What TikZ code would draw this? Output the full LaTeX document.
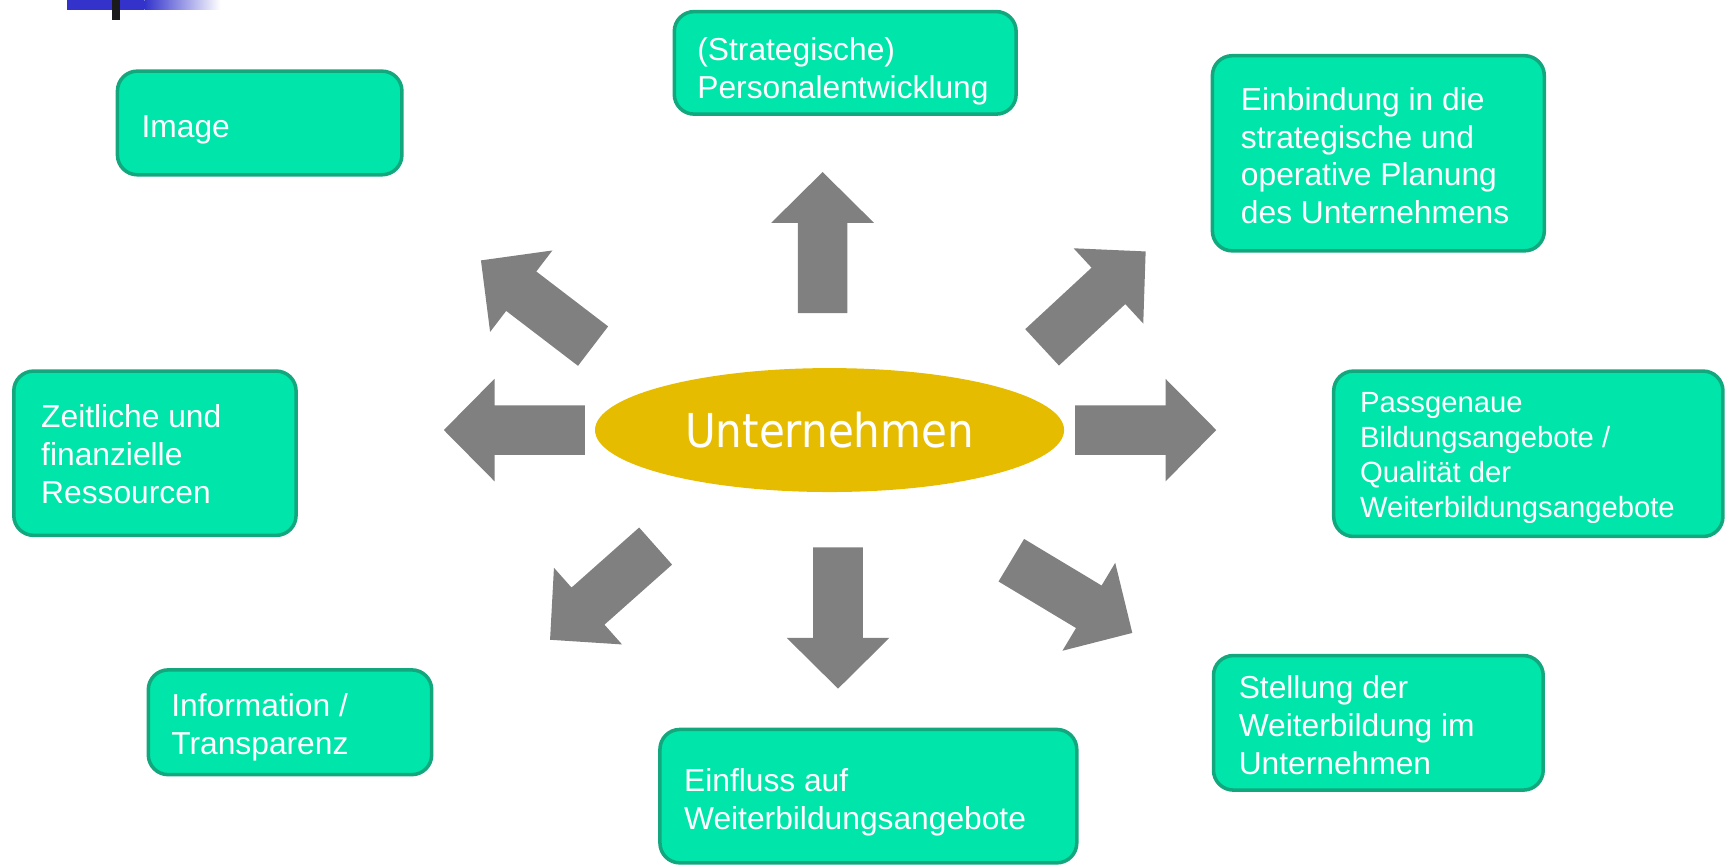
\documentclass[tikz,border=0pt]{standalone}
\usepackage{fontspec}
\setmainfont{Liberation Sans}
\newfontfamily\ufont{DejaVu Sans Condensed}
\usetikzlibrary{shapes.geometric}
\definecolor{mint}{HTML}{00E5AA}
\definecolor{mintline}{HTML}{13A77E}
\definecolor{gold}{HTML}{E6BC00}
\definecolor{agray}{HTML}{808080}
\definecolor{topblue}{HTML}{3333CC}
\definecolor{topbar}{HTML}{1A1A1A}
\begin{document}
\begin{tikzpicture}[x=0.5pt,y=-0.5pt,
  tbox/.style={draw=mintline, fill=mint, line width=1.6pt, rounded corners=9pt, inner sep=0pt},
  btext/.style={inner sep=0pt, align=left, text=white, font=\fontsize{14.4pt}{17.15pt}\selectfont, anchor=west},
  stext/.style={btext, font=\fontsize{13.25pt}{15.85pt}\selectfont},
  blockarrow/.pic={\fill[agray] (-64,-22.5) -- (18,-22.5) -- (18,-46.5) -- (64,0) -- (18,46.5) -- (18,22.5) -- (-64,22.5) -- cycle;}
]
\useasboundingbox (0,0) rectangle (1568,784);

% top-left decoration
\fill[topblue] (61,0) rectangle (131,9);
\shade[left color=topblue, right color=white] (131,0) rectangle (200,9);
\fill[topbar] (102,0) rectangle (109,18);

% centre
\node[ellipse, fill=gold, minimum width=212.7pt, minimum height=56.2pt, inner sep=0pt,
      text=white, font=\ufont\fontsize{21.2pt}{25pt}\selectfont] (u) at (752.3,390) {Unternehmen};

% arrows
\pic[rotate=90] (aN) at (746,220) {blockarrow};
\pic[rotate=180] (aW) at (466.5,390) {blockarrow};
\pic[rotate=0] (aE) at (1039,390) {blockarrow};
\pic[rotate=270] (aS) at (760,560.5) {blockarrow};
\pic[rotate=142.6] (aNW) at (487,275) {blockarrow};
\pic[rotate=42.8] (aNE) at (992,271.5) {blockarrow};
\pic[rotate=221.6] (aSW) at (546.7,537.7) {blockarrow};
\pic[rotate=-31] (aSE) at (972,541) {blockarrow};

% boxes
\node[tbox, minimum width=129pt, minimum height=47pt] (b1) at (235.5,111.5) {};
\node[btext] (t1) at (128,117.5) {\strut Image\strut};

\node[tbox, minimum width=155pt, minimum height=46.5pt] (b2) at (766.5,57) {};
\node[btext] (t2) at (632,65) {\strut(Strategische)\\Personalentwicklung\strut};

\node[tbox, minimum width=150.5pt, minimum height=88.5pt] (b3) at (1250,139) {};
\node[btext] (t3) at (1125,144.5) {\strut Einbindung in die\\strategische und\\operative Planung\\des Unternehmens\strut};

\node[tbox, minimum width=128pt, minimum height=74.5pt] (b4) at (140.5,411) {};
\node[btext] (t4) at (37,415.5) {\strut Zeitliche und\\finanzielle\\Ressourcen\strut};

\node[tbox, minimum width=176.5pt, minimum height=75pt] (b5) at (1386,411.5) {};
\node[stext] (t5) at (1233,415) {\strut Passgenaue\\Bildungsangebote /\\Qualität der\\Weiterbildungsangebote\strut};

\node[tbox, minimum width=128.5pt, minimum height=47.5pt] (b6) at (263,655) {};
\node[btext] (t6) at (155,660) {\strut Information /\\Transparenz\strut};

\node[tbox, minimum width=189pt, minimum height=60.5pt] (b7) at (787.5,722) {};
\node[btext] (t7) at (620,728.5) {\strut Einfluss auf\\Weiterbildungsangebote\strut};

\node[tbox, minimum width=149.5pt, minimum height=61pt] (b8) at (1250,655.5) {};
\node[btext] (t8) at (1123,661) {\strut Stellung der\\Weiterbildung im\\Unternehmen\strut};
\end{tikzpicture}
\end{document}
